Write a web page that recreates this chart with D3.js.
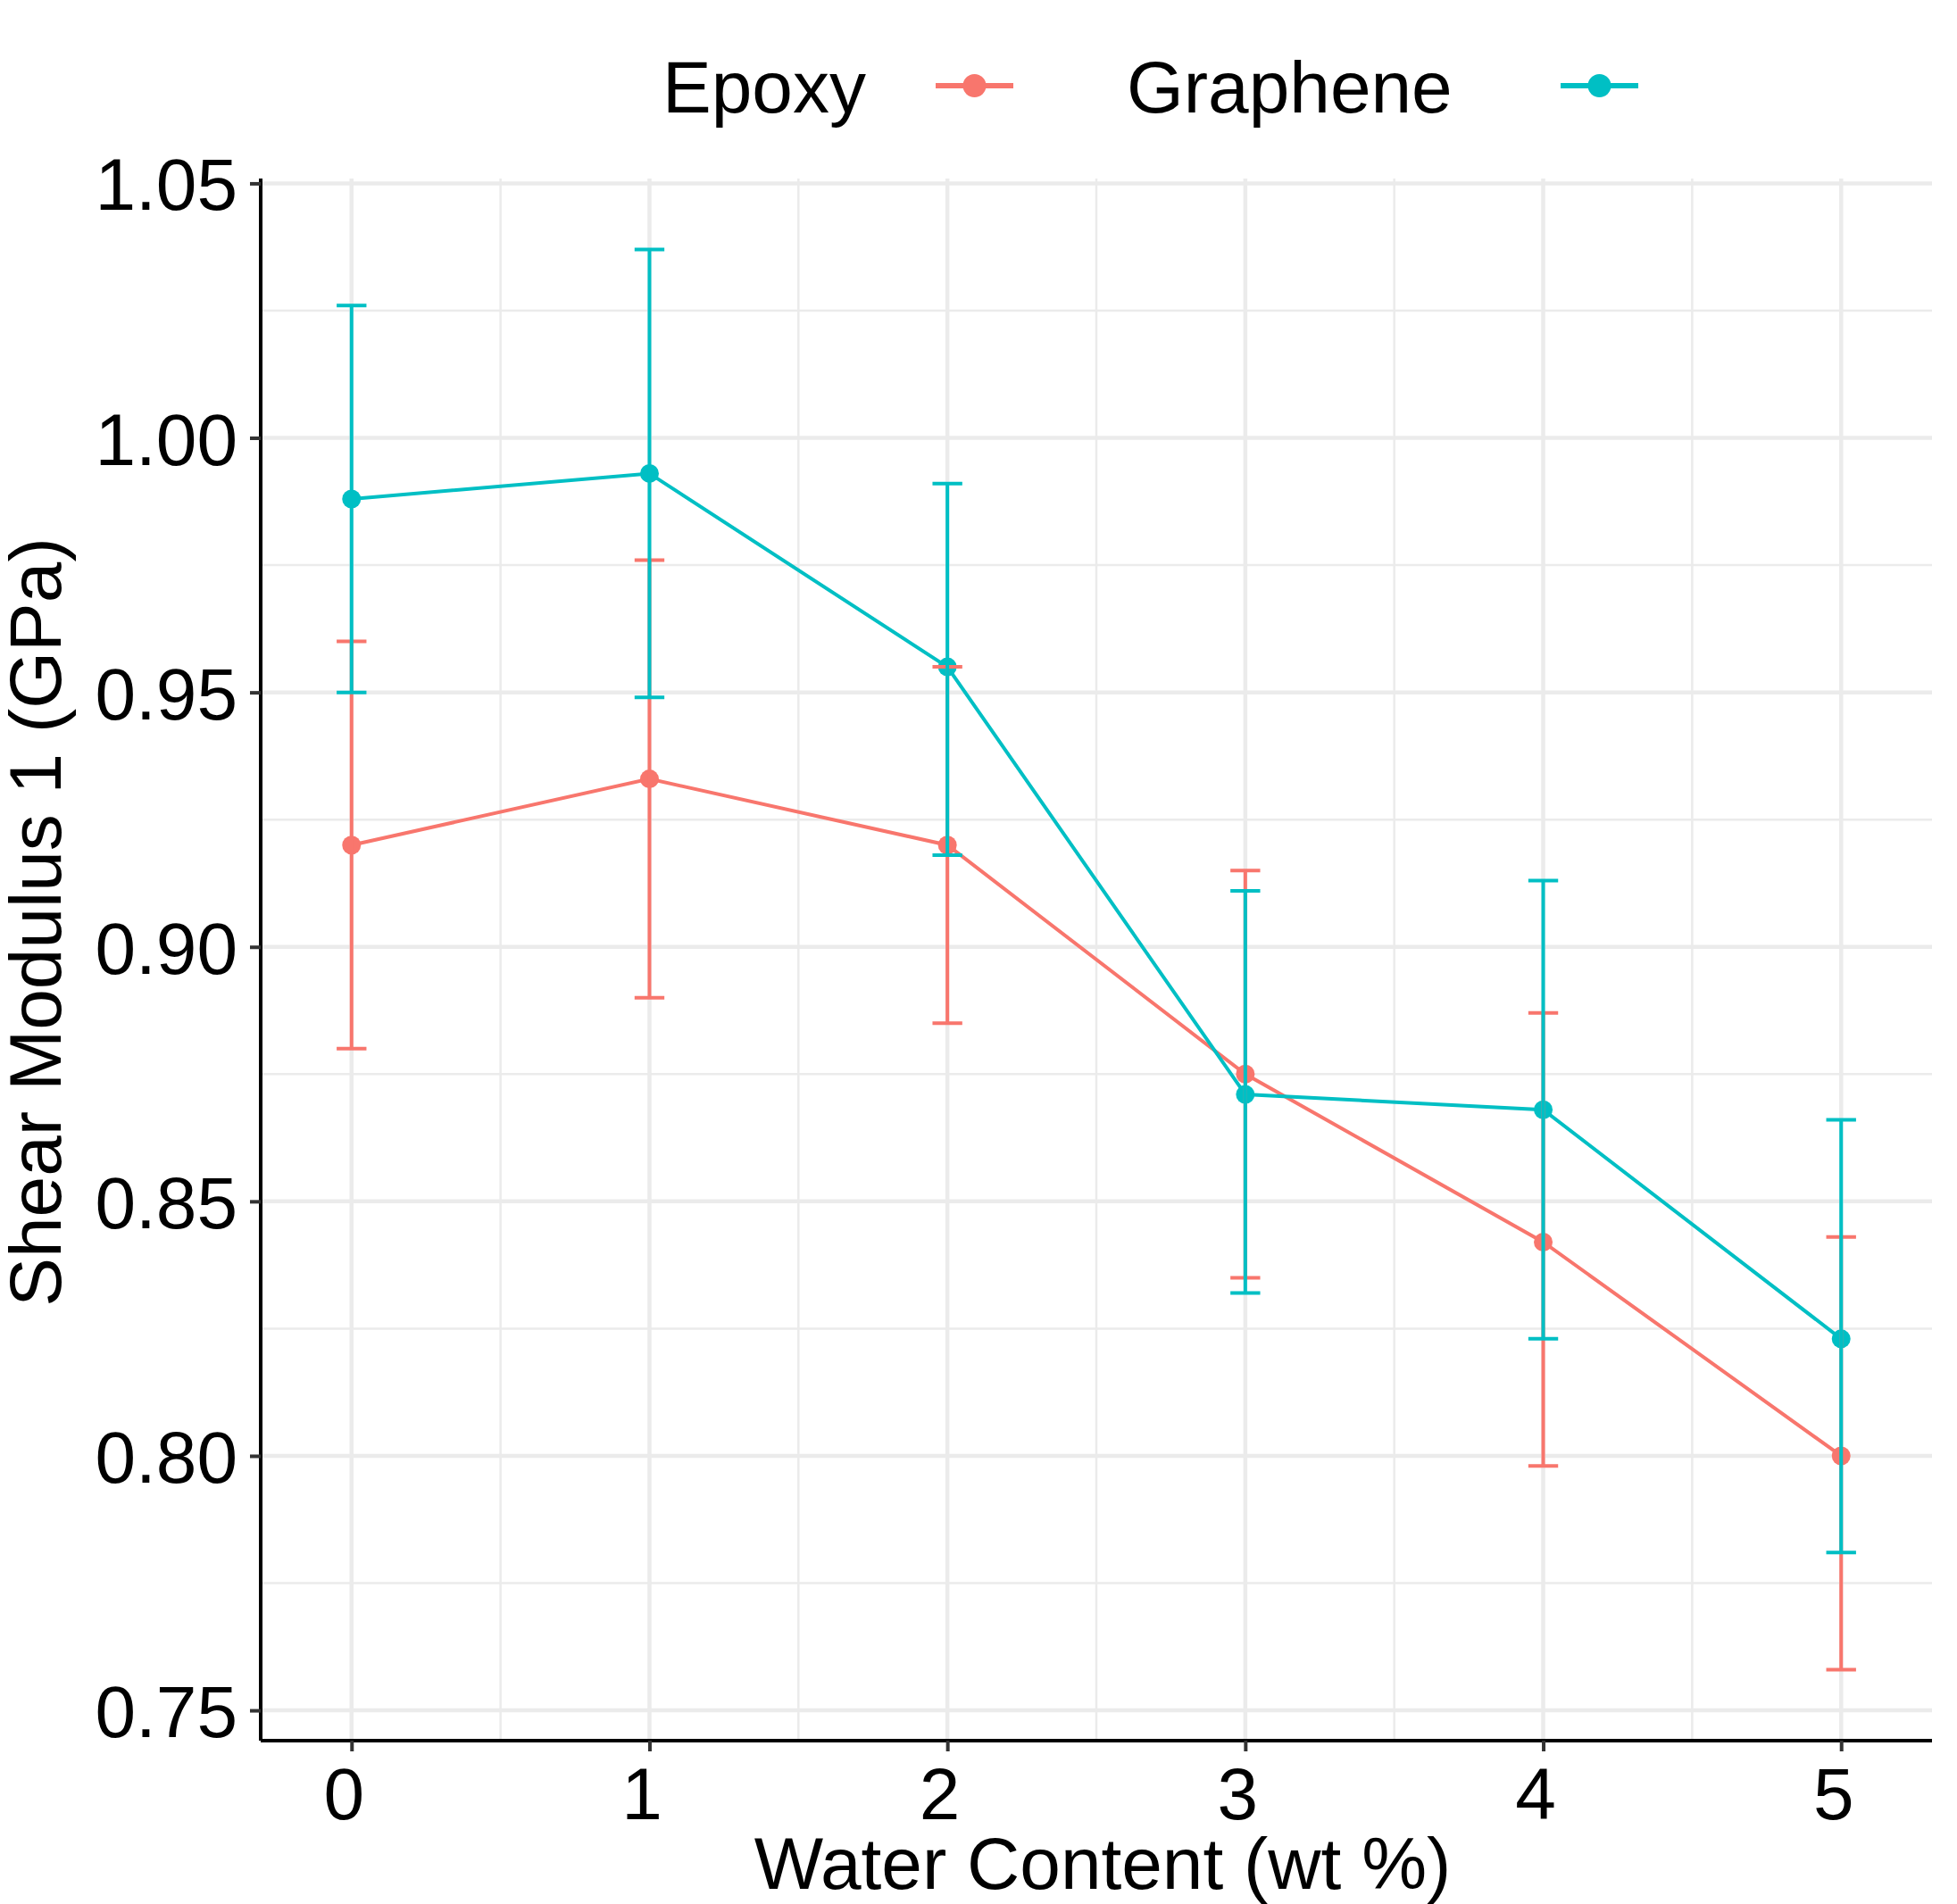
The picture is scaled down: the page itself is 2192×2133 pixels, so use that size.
<!DOCTYPE html>
<html>
<head>
<meta charset="utf-8">
<script src="https://d3js.org/d3.v7.min.js"></script>
<style>
  body { margin: 0; background: #fff; }
  text { font-family: "Liberation Sans", Arial, Helvetica, sans-serif; fill: #000; }
</style>
</head>
<body>
<div id="chart"></div>
<script>
// canvas
const canvWidth = 2192, canvHeight = 2133;
const margin = {top: 200, right: 28, bottom: 183, left: 292};
const width = canvWidth - margin.left - margin.right;
const height = canvHeight - margin.top - margin.bottom;

// data
const water = [0, 1, 2, 3, 4, 5];
const seriesNames = ["Epoxy", "Graphene"];
const colors = ["#F8766D", "#00BFC4"];
const epoxyMean = [0.920, 0.933, 0.920, 0.875, 0.842, 0.800];
const epoxyLow  = [0.880, 0.890, 0.885, 0.835, 0.798, 0.758];
const epoxyHigh = [0.960, 0.976, 0.955, 0.915, 0.887, 0.843];
const grapheneMean = [0.988, 0.993, 0.955, 0.871, 0.868, 0.823];
const grapheneLow  = [0.950, 0.949, 0.918, 0.832, 0.823, 0.781];
const grapheneHigh = [1.026, 1.037, 0.991, 0.911, 0.913, 0.866];
const xTicks = [0, 1, 2, 3, 4, 5];
const yTicks = [0.75, 0.80, 0.85, 0.90, 0.95, 1.00, 1.05];

const series = [
  {name: seriesNames[0], color: colors[0],
   values: water.map((w, i) => ({x: w, y: epoxyMean[i], lo: epoxyLow[i], hi: epoxyHigh[i]}))},
  {name: seriesNames[1], color: colors[1],
   values: water.map((w, i) => ({x: w, y: grapheneMean[i], lo: grapheneLow[i], hi: grapheneHigh[i]}))}
];

const barHalf = 0.05;  // errorbar width 0.1

const svg = d3.select("#chart").append("svg")
    .attr("width", canvWidth)
    .attr("height", canvHeight);

const g = svg.append("g")
    .attr("transform", `translate(${margin.left},${margin.top})`);

// scales with ggplot-like 5% expansion
const xMin = d3.min(water) - barHalf, xMax = d3.max(water) + barHalf;
const xPad = (xMax - xMin) * 0.05;
const x = d3.scaleLinear().domain([xMin - xPad, xMax + xPad]).range([0, width]);

const allY = series.flatMap(s => s.values.flatMap(d => [d.lo, d.hi]));
const yMin = d3.min(allY), yMax = d3.max(allY);
const yPad = (yMax - yMin) * 0.05;
const y = d3.scaleLinear().domain([yMin - yPad, yMax + yPad]).range([height, 0]);

// grid
const xMinor = d3.range(-0.5, 6, 1).filter(v => v > x.domain()[0] && v < x.domain()[1]);
const yMinor = d3.range(0.725, 1.1, 0.05).filter(v => v > y.domain()[0] && v < y.domain()[1]);

g.selectAll(".xminor").data(xMinor).join("line")
    .attr("x1", d => x(d)).attr("x2", d => x(d))
    .attr("y1", 0).attr("y2", height)
    .attr("stroke", "#EBEBEB").attr("stroke-width", 2.5);
g.selectAll(".yminor").data(yMinor).join("line")
    .attr("x1", 0).attr("x2", width)
    .attr("y1", d => y(d)).attr("y2", d => y(d))
    .attr("stroke", "#EBEBEB").attr("stroke-width", 2.5);
g.selectAll(".xmajor").data(xTicks).join("line")
    .attr("x1", d => x(d)).attr("x2", d => x(d))
    .attr("y1", 0).attr("y2", height)
    .attr("stroke", "#EBEBEB").attr("stroke-width", 4.5);
g.selectAll(".ymajor").data(yTicks).join("line")
    .attr("x1", 0).attr("x2", width)
    .attr("y1", d => y(d)).attr("y2", d => y(d))
    .attr("stroke", "#EBEBEB").attr("stroke-width", 4.5);

// lines
const line = d3.line().x(d => x(d.x)).y(d => y(d.y));
g.selectAll(".series-line").data(series).join("path")
    .attr("d", d => line(d.values))
    .attr("fill", "none")
    .attr("stroke", d => d.color)
    .attr("stroke-width", 4);

// points
series.forEach(s => {
  g.selectAll(null).data(s.values).join("circle")
      .attr("cx", d => x(d.x))
      .attr("cy", d => y(d.y))
      .attr("r", 10.5)
      .attr("fill", s.color);
});

// error bars
series.forEach(s => {
  const eb = g.append("g").attr("stroke", s.color).attr("stroke-width", 4).attr("fill", "none");
  eb.selectAll(null).data(s.values).join("path")
      .attr("d", d => `M${x(d.x - barHalf)},${y(d.hi)}H${x(d.x + barHalf)}M${x(d.x)},${y(d.hi)}V${y(d.lo)}M${x(d.x - barHalf)},${y(d.lo)}H${x(d.x + barHalf)}`);
});

// axes
const xAxis = g.append("g")
    .attr("transform", `translate(0,${height})`)
    .call(d3.axisBottom(x).tickValues(xTicks).tickSize(12).tickPadding(18).tickFormat(d3.format("d")));
const yAxis = g.append("g")
    .call(d3.axisLeft(y).tickValues(yTicks).tickSize(12).tickPadding(14).tickFormat(d3.format(".2f")));

[xAxis, yAxis].forEach(a => {
  a.select(".domain").attr("stroke", "#000").attr("stroke-width", 4);
  a.selectAll(".tick line").attr("stroke", "#333333").attr("stroke-width", 4);
  a.selectAll(".tick text")
      .style("font-family", "'Liberation Sans', Arial, sans-serif")
      .style("font-size", "82px")
      .attr("fill", "#000");
});
xAxis.select(".domain").attr("d", `M0,0H${width}`);
yAxis.select(".domain").attr("d", `M0,0V${height}`);
xAxis.selectAll(".tick text").attr("dy", "0.71em").attr("dx", -9);
yAxis.selectAll(".tick text").attr("dy", "0.36em");

// axis titles
svg.append("text")
    .attr("x", margin.left + width / 2 + 7)
    .attr("y", 2116)
    .attr("text-anchor", "middle")
    .style("font-size", "82px")
    .text("Water Content (wt %)");

svg.append("text")
    .attr("transform", "translate(68,1033) rotate(-90)")
    .attr("text-anchor", "middle")
    .style("font-size", "82px")
    .text("Shear Modulus 1 (GPa)");

// legend
const legendItems = [
  {name: seriesNames[0], color: colors[0], tx: 742, kx: 1048},
  {name: seriesNames[1], color: colors[1], tx: 1262, kx: 1748}
];
const leg = svg.append("g");
legendItems.forEach(it => {
  leg.append("text")
      .attr("x", it.tx).attr("y", 126)
      .style("font-size", "82px")
      .text(it.name);
  leg.append("line")
      .attr("x1", it.kx).attr("x2", it.kx + 87)
      .attr("y1", 96).attr("y2", 96)
      .attr("stroke", it.color).attr("stroke-width", 6);
  leg.append("circle")
      .attr("cx", it.kx + 43.5).attr("cy", 96)
      .attr("r", 13)
      .attr("fill", it.color);
});
</script>
</body>
</html>
